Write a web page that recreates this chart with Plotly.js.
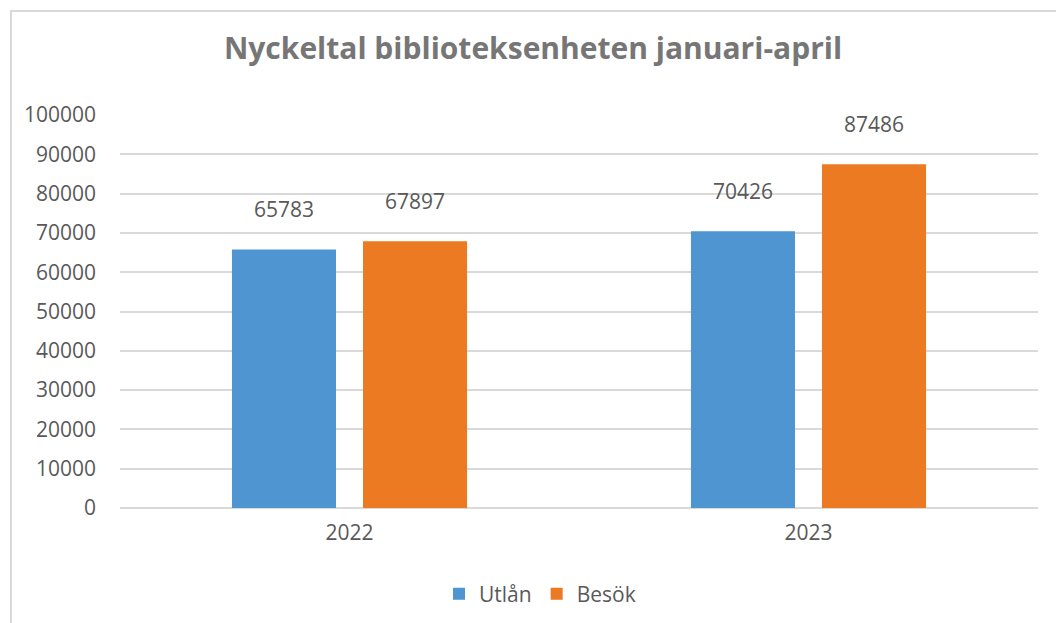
<!DOCTYPE html>
<html>
<head>
<meta charset="utf-8">
<script src="https://cdn.plot.ly/plotly-3.0.1.min.js"></script>
<style>html,body{margin:0;padding:0;background:#fff;}#chart{width:1056px;height:623px;}</style>
</head>
<body>
<div id="chart"></div>
<script>
const categories = ['2022', '2023'];
const utlan = [65783, 70426];
const besok = [67897, 87486];
const seriesNames = ['Utlån', 'Besök'];
const yTicks = [0, 10000, 20000, 30000, 40000, 50000, 60000, 70000, 80000, 90000, 100000];

const FONT = '"Open Sans", "Noto Sans", sans-serif';
const labelTpl = '%{y:d}<br><span style="font-size:8px"> </span>';

const traces = [
  {type: 'bar', name: seriesNames[0], x: categories, y: utlan,
   marker: {color: '#4e95d1'}, texttemplate: labelTpl, textposition: 'outside',
   textfont: {family: FONT, size: 21, color: '#595959'}, cliponaxis: false, hoverinfo: 'x+y'},
  {type: 'bar', name: seriesNames[1], x: categories, y: besok,
   marker: {color: '#ec7a23'}, texttemplate: labelTpl, textposition: 'outside',
   textfont: {family: FONT, size: 21, color: '#595959'}, cliponaxis: false, hoverinfo: 'x+y'}
];

const layout = {
  width: 1056, height: 623,
  margin: {l: 120, r: 18, t: 115, b: 115},
  paper_bgcolor: '#fff', plot_bgcolor: '#fff',
  font: {family: FONT, color: '#595959'},
  title: {text: '<b>Nyckeltal biblioteksenheten januari-april</b>',
          font: {family: FONT, size: 30, color: '#767676'},
          x: 533/1056, xanchor: 'center', xref: 'container', y: 1 - 48/623, yanchor: 'middle', yref: 'container'},
  barmode: 'group', bargap: 0.429, bargroupgap: 0.206,
  xaxis: {type: 'category', showgrid: false, zeroline: false, showline: false, ticks: '',
          tickfont: {family: FONT, size: 21, color: '#595959'}, ticklabelstandoff: 10},
  yaxis: {range: [0, 100000], tickvals: yTicks, ticktext: yTicks.map(String),
          showgrid: true, gridcolor: '#d9d9d9', gridwidth: 2,
          zeroline: true, zerolinecolor: '#d9d9d9', zerolinewidth: 2,
          showline: false, ticks: '', tickfont: {family: FONT, size: 21, color: '#595959'},
          ticklabelstandoff: 23},
  showlegend: true,
  legend: {orientation: 'h', xref: 'container', yref: 'container', x: 540/1056, xanchor: 'center',
           y: 1 - 594/623, yanchor: 'middle', font: {family: FONT, size: 21, color: '#595959'},
           itemwidth: 30, traceorder: 'normal'},
  shapes: [{type: 'rect', xref: 'paper', yref: 'paper', x0: (11-120)/918, x1: 1.2, y0: -0.4, y1: (508-11)/393,
            line: {color: '#d9d9d9', width: 2}, fillcolor: 'rgba(0,0,0,0)', layer: 'below'}]
};

Plotly.newPlot('chart', traces, layout, {displayModeBar: false, staticPlot: true});
</script>
</body>
</html>
